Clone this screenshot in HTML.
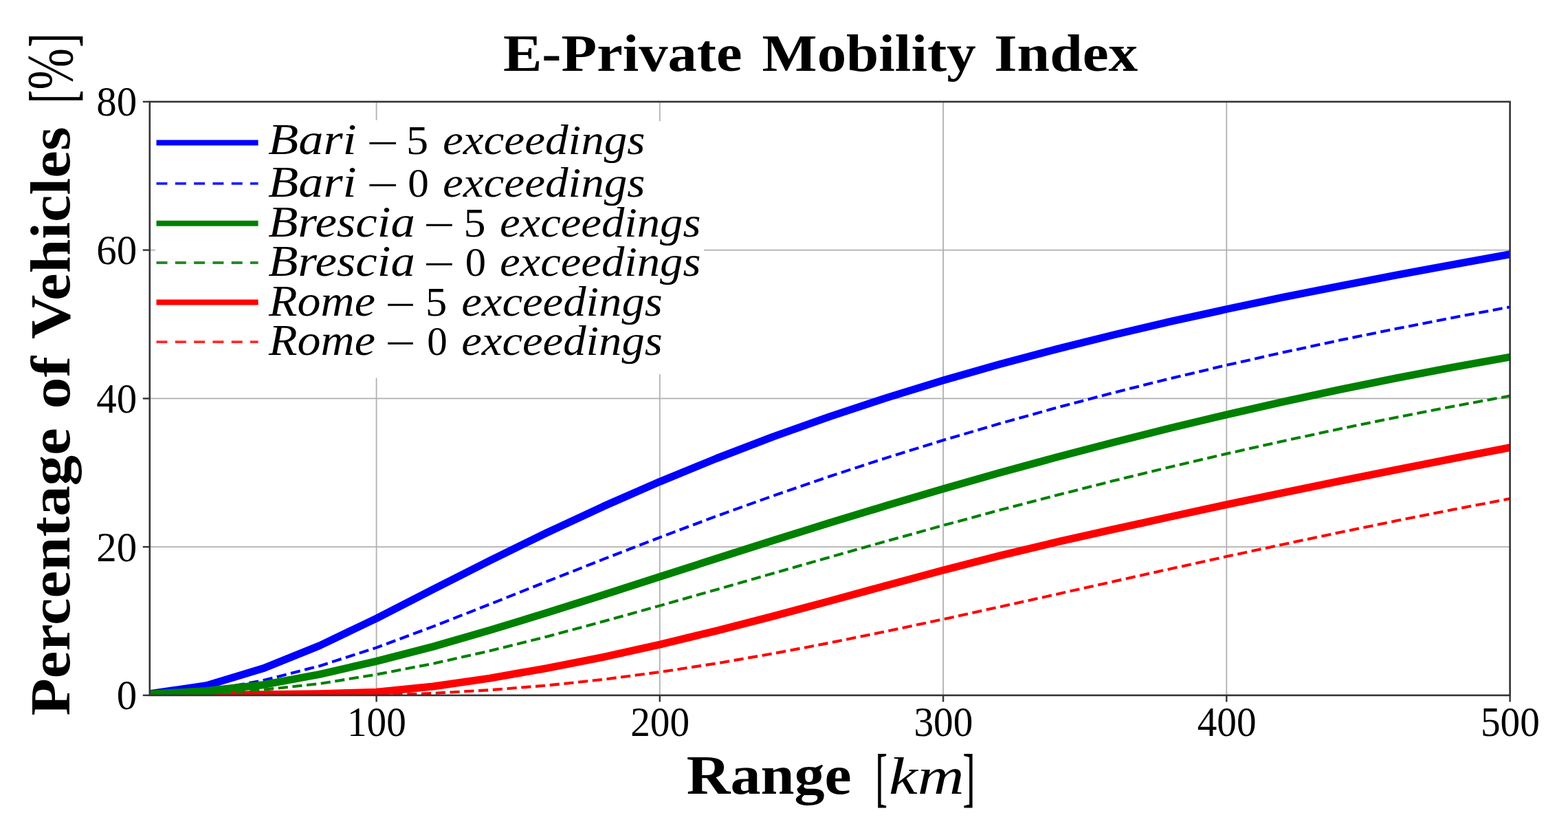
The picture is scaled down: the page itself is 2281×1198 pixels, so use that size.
<!DOCTYPE html><html><head><meta charset="utf-8"><title>E-Private Mobility Index</title><style>html,body{margin:0;padding:0;background:#fff;overflow:hidden}svg{display:block;filter:blur(0.45px)}</style></head><body>
<svg width="2281" height="1198" viewBox="0 0 2281 1198">
<rect width="2281" height="1198" fill="#fff"/>
<defs><clipPath id="ax"><rect x="217.8" y="147.9" width="1978.8" height="863.0"/></clipPath></defs>
<g stroke="#b0b0b0" stroke-width="1.8"><line x1="547.6" y1="147.9" x2="547.6" y2="1010.85"/><line x1="959.8" y1="147.9" x2="959.8" y2="1010.85"/><line x1="1372.1" y1="147.9" x2="1372.1" y2="1010.85"/><line x1="1784.3" y1="147.9" x2="1784.3" y2="1010.85"/><line x1="217.8" y1="795.1" x2="2196.6" y2="795.1"/><line x1="217.8" y1="579.4" x2="2196.6" y2="579.4"/><line x1="217.8" y1="363.6" x2="2196.6" y2="363.6"/></g>
<polygon points="226,173.5 1024,176.5 1024,543 226,554" fill="#fff"/>
<g clip-path="url(#ax)" fill="none" stroke-linejoin="round">
<path d="M217.8,1008.7 L300.2,996.8 L382.7,971.8 L465.1,938.6 L547.6,899.1 L630.0,856.9 L712.5,815.1 L795.0,774.8 L877.4,736.4 L959.8,700.3 L1042.3,666.5 L1124.8,634.9 L1207.2,605.6 L1289.6,578.4 L1372.1,553.1 L1454.5,529.5 L1537.0,507.6 L1619.5,487.0 L1701.9,467.7 L1784.3,449.5 L1866.8,432.2 L1949.2,415.8 L2031.7,399.9 L2114.2,384.6 L2196.6,369.7" stroke="#0000ff" stroke-width="11" stroke-linecap="round"/>
<path d="M217.8,1009.8 L300.2,1004.4 L382.7,989.3 L465.1,968.2 L547.6,941.6 L630.0,910.9 L712.5,878.5 L795.0,845.7 L877.4,813.2 L959.8,781.3 L1042.3,750.4 L1124.8,720.8 L1207.2,692.5 L1289.6,665.6 L1372.1,640.0 L1454.5,615.8 L1537.0,592.8 L1619.5,571.0 L1701.9,550.4 L1784.3,530.9 L1866.8,512.3 L1949.2,494.6 L2031.7,477.8 L2114.2,461.7 L2196.6,446.3" stroke="#0000ff" stroke-width="4.1" stroke-dasharray="14.2,6.6" stroke-linecap="butt"/>
<path d="M217.8,1010.9 L300.2,1010.5 L382.7,1009.8 L465.1,1008.8 L547.6,1006.2 L630.0,998.0 L712.5,986.1 L795.0,971.6 L877.4,955.3 L959.8,937.1 L1042.3,917.1 L1124.8,895.8 L1207.2,873.7 L1289.6,851.3 L1372.1,829.0 L1454.5,807.8 L1537.0,788.2 L1619.5,769.7 L1701.9,751.5 L1784.3,733.7 L1866.8,716.4 L1949.2,699.4 L2031.7,682.8 L2114.2,666.6 L2196.6,650.7" stroke="#ff0000" stroke-width="11" stroke-linecap="round"/>
<path d="M217.8,1010.9 L300.2,1010.9 L382.7,1010.9 L465.1,1010.9 L547.6,1010.9 L630.0,1007.9 L712.5,1003.2 L795.0,996.6 L877.4,987.9 L959.8,977.1 L1042.3,964.5 L1124.8,950.2 L1207.2,934.6 L1289.6,917.8 L1372.1,900.3 L1454.5,882.3 L1537.0,864.0 L1619.5,845.5 L1701.9,827.2 L1784.3,809.1 L1866.8,791.4 L1949.2,774.0 L2031.7,757.1 L2114.2,740.8 L2196.6,725.0" stroke="#ff0000" stroke-width="4.1" stroke-dasharray="14.2,6.6" stroke-linecap="butt"/>
<path d="M217.8,1009.2 L300.2,1004.4 L382.7,995.7 L465.1,980.3 L547.6,961.4 L630.0,940.1 L712.5,916.3 L795.0,891.1 L877.4,865.0 L959.8,838.5 L1042.3,812.0 L1124.8,785.8 L1207.2,760.1 L1289.6,735.1 L1372.1,710.8 L1454.5,687.3 L1537.0,664.8 L1619.5,643.2 L1701.9,622.5 L1784.3,602.8 L1866.8,584.1 L1949.2,566.3 L2031.7,549.6 L2114.2,533.9 L2196.6,519.1" stroke="#008000" stroke-width="11" stroke-linecap="round"/>
<path d="M217.8,1010.3 L300.2,1008.2 L382.7,1002.8 L465.1,994.0 L547.6,980.6 L630.0,964.8 L712.5,946.3 L795.0,925.7 L877.4,903.6 L959.8,880.6 L1042.3,857.2 L1124.8,833.5 L1207.2,810.0 L1289.6,786.7 L1372.1,763.9 L1454.5,741.6 L1537.0,720.0 L1619.5,699.1 L1701.9,679.0 L1784.3,659.7 L1866.8,641.2 L1949.2,623.5 L2031.7,606.7 L2114.2,590.7 L2196.6,575.6" stroke="#008000" stroke-width="4.1" stroke-dasharray="14.2,6.6" stroke-linecap="butt"/>
</g>
<rect x="217.8" y="147.9" width="1978.8" height="863.0" fill="none" stroke="#333" stroke-width="2.6"/>
<g stroke="#333" stroke-width="2.4"><line x1="547.6" y1="1010.85" x2="547.6" y2="1020.4"/><line x1="959.8" y1="1010.85" x2="959.8" y2="1020.4"/><line x1="1372.1" y1="1010.85" x2="1372.1" y2="1020.4"/><line x1="1784.3" y1="1010.85" x2="1784.3" y2="1020.4"/><line x1="2196.6" y1="1010.85" x2="2196.6" y2="1020.4"/><line x1="207.8" y1="1010.9" x2="217.8" y2="1010.9"/><line x1="207.8" y1="795.1" x2="217.8" y2="795.1"/><line x1="207.8" y1="579.4" x2="217.8" y2="579.4"/><line x1="207.8" y1="363.6" x2="217.8" y2="363.6"/><line x1="207.8" y1="147.9" x2="217.8" y2="147.9"/></g>
<g font-family="Liberation Serif, serif" font-size="60.92" fill="#000"><text transform="translate(547.9,1069.8) scale(0.94,1)" text-anchor="middle">100</text><text transform="translate(960.1,1069.8) scale(0.94,1)" text-anchor="middle">200</text><text transform="translate(1372.4,1069.8) scale(0.94,1)" text-anchor="middle">300</text><text transform="translate(1784.6,1069.8) scale(0.94,1)" text-anchor="middle">400</text><text transform="translate(2196.9,1069.8) scale(0.94,1)" text-anchor="middle">500</text><text transform="translate(199.2,1031.2) scale(0.967,1)" text-anchor="end">0</text><text transform="translate(199.2,815.5) scale(0.967,1)" text-anchor="end">20</text><text transform="translate(199.2,599.8) scale(0.967,1)" text-anchor="end">40</text><text transform="translate(199.2,384.0) scale(0.967,1)" text-anchor="end">60</text><text transform="translate(199.2,168.3) scale(0.967,1)" text-anchor="end">80</text></g>
<line x1="227.5" y1="207.5" x2="375.6" y2="207.5" stroke="#0000ff" stroke-width="8"/>
<line x1="227.5" y1="266.8" x2="375.6" y2="266.8" stroke="#2020ff" stroke-width="3.8" stroke-dasharray="16.0,11.3"/>
<line x1="227.5" y1="324.7" x2="375.6" y2="324.7" stroke="#008000" stroke-width="8"/>
<line x1="227.5" y1="382.0" x2="375.6" y2="382.0" stroke="#2a8a2a" stroke-width="3.8" stroke-dasharray="16.0,11.3"/>
<line x1="227.5" y1="439.4" x2="375.6" y2="439.4" stroke="#ff0000" stroke-width="8"/>
<line x1="227.5" y1="497.2" x2="375.6" y2="497.2" stroke="#ff2a2a" stroke-width="3.8" stroke-dasharray="16.0,11.3"/>
<g font-family="Liberation Serif, serif" fill="#000"><text x="731.9" y="102.7" font-size="77.08" font-weight="bold" textLength="347.72" lengthAdjust="spacingAndGlyphs">E-Private</text><text x="1108.6" y="102.7" font-size="77.08" font-weight="bold" textLength="311.07" lengthAdjust="spacingAndGlyphs">Mobility</text><text x="1446.37" y="102.7" font-size="77.08" font-weight="bold" textLength="208.96" lengthAdjust="spacingAndGlyphs">Index</text><text x="998.71" y="1153.6" font-size="80.62" font-weight="bold" textLength="240.06" lengthAdjust="spacingAndGlyphs">Range</text><text x="1273.5" y="1162.1" font-size="93.19" textLength="17.3" lengthAdjust="spacingAndGlyphs" stroke="#000" stroke-width="0.8">[</text><text x="1293.12" y="1153.6" font-size="75.94" font-style="italic" textLength="109.67" lengthAdjust="spacingAndGlyphs">km</text><text x="1400.71" y="1162.1" font-size="93.19" textLength="17.45" lengthAdjust="spacingAndGlyphs" stroke="#000" stroke-width="0.8">]</text><text x="390.07" y="224.1" font-size="63.85" font-style="italic" textLength="128.65" lengthAdjust="spacingAndGlyphs">Bari</text><text x="533.24" y="227.6" font-size="60.0" textLength="46.9" lengthAdjust="spacingAndGlyphs">−</text><text x="591.12" y="224.1" font-size="60.0" textLength="32.13" lengthAdjust="spacingAndGlyphs">5</text><text x="643.94" y="224.1" font-size="62.32" font-style="italic" textLength="294.56" lengthAdjust="spacingAndGlyphs">exceedings</text><text x="390.07" y="285.7" font-size="63.85" font-style="italic" textLength="128.65" lengthAdjust="spacingAndGlyphs">Bari</text><text x="533.24" y="289.2" font-size="60.0" textLength="46.9" lengthAdjust="spacingAndGlyphs">−</text><text x="593.36" y="285.7" font-size="60.0" textLength="30.58" lengthAdjust="spacingAndGlyphs">0</text><text x="643.94" y="285.7" font-size="62.32" font-style="italic" textLength="294.56" lengthAdjust="spacingAndGlyphs">exceedings</text><text x="390.29" y="343.7" font-size="63.85" font-style="italic" textLength="213.55" lengthAdjust="spacingAndGlyphs">Brescia</text><text x="615.94" y="347.2" font-size="60.0" textLength="45.81" lengthAdjust="spacingAndGlyphs">−</text><text x="674.43" y="343.7" font-size="60.0" textLength="32.0" lengthAdjust="spacingAndGlyphs">5</text><text x="726.96" y="343.7" font-size="62.32" font-style="italic" textLength="292.43" lengthAdjust="spacingAndGlyphs">exceedings</text><text x="390.29" y="400.8" font-size="63.85" font-style="italic" textLength="213.55" lengthAdjust="spacingAndGlyphs">Brescia</text><text x="615.94" y="404.3" font-size="60.0" textLength="45.81" lengthAdjust="spacingAndGlyphs">−</text><text x="676.68" y="400.8" font-size="60.0" textLength="30.23" lengthAdjust="spacingAndGlyphs">0</text><text x="726.96" y="400.8" font-size="62.32" font-style="italic" textLength="292.43" lengthAdjust="spacingAndGlyphs">exceedings</text><text x="391.0" y="459.1" font-size="63.85" font-style="italic" textLength="154.86" lengthAdjust="spacingAndGlyphs">Rome</text><text x="560.16" y="462.6" font-size="60.0" textLength="44.48" lengthAdjust="spacingAndGlyphs">−</text><text x="619.13" y="459.1" font-size="60.0" textLength="31.25" lengthAdjust="spacingAndGlyphs">5</text><text x="671.16" y="459.1" font-size="62.32" font-style="italic" textLength="292.63" lengthAdjust="spacingAndGlyphs">exceedings</text><text x="391.0" y="515.6" font-size="63.85" font-style="italic" textLength="154.86" lengthAdjust="spacingAndGlyphs">Rome</text><text x="560.16" y="519.1" font-size="60.0" textLength="44.48" lengthAdjust="spacingAndGlyphs">−</text><text x="621.33" y="515.6" font-size="60.0" textLength="29.54" lengthAdjust="spacingAndGlyphs">0</text><text x="671.16" y="515.6" font-size="62.32" font-style="italic" textLength="292.63" lengthAdjust="spacingAndGlyphs">exceedings</text></g>
<g transform="translate(101,1200) rotate(-90)" font-family="Liberation Serif, serif" fill="#000"><text x="159.42" y="0" font-size="82.31" font-weight="bold" textLength="418.24" lengthAdjust="spacingAndGlyphs">Percentage</text><text x="605.53" y="0" font-size="79.49" font-weight="bold" textLength="76.57" lengthAdjust="spacingAndGlyphs">of</text><text x="706.92" y="0" font-size="82.31" font-weight="bold" textLength="308.73" lengthAdjust="spacingAndGlyphs">Vehicles</text><text x="1050.23" y="7.0" font-size="93.19" textLength="18.48" lengthAdjust="spacingAndGlyphs" stroke="#000" stroke-width="0.8">[</text><text x="1069.6" y="4.3" font-size="94.62" textLength="60.46" lengthAdjust="spacingAndGlyphs">%</text><text x="1131.49" y="7.0" font-size="93.19" textLength="19.81" lengthAdjust="spacingAndGlyphs" stroke="#000" stroke-width="0.8">]</text></g>
</svg></body></html>
